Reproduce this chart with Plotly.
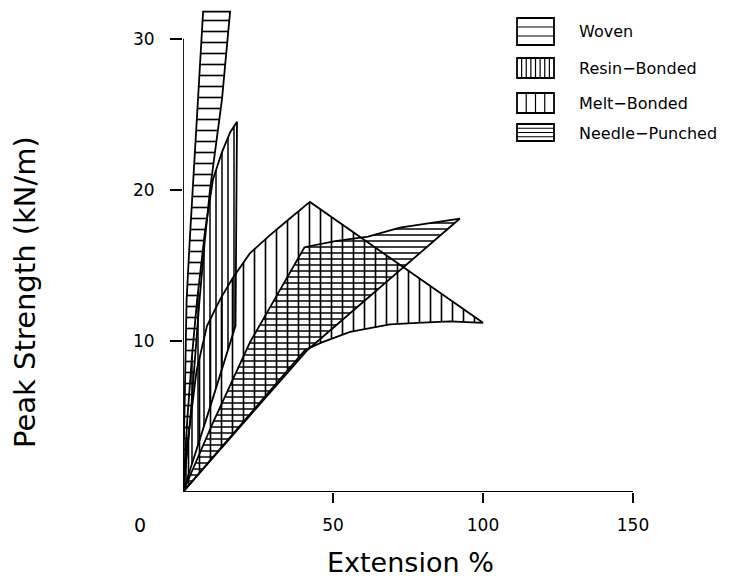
import plotly.graph_objects as go

# ---- data ----
categories = ["Woven", "Resin\u2212Bonded", "Melt\u2212Bonded", "Needle\u2212Punched"]

woven_upper_x = [0, 0.4, 1.2, 2.2, 3.3, 5.0, 6.7]
woven_upper_y = [0, 5, 12.7, 16.5, 20, 26, 31.8]
woven_lower_x = [0, 2.5, 5.5, 7.2, 9.0, 13.0, 15.7]
woven_lower_y = [0, 5, 12.7, 16.5, 20, 26, 31.8]

resin_upper_x = [0, 1.5, 3.0, 4.7, 7.3, 9.0, 10.0, 13.0, 15.7, 18.0]
resin_upper_y = [0, 5, 9, 12.7, 17.2, 19.5, 20.7, 22.5, 23.8, 24.5]
resin_lower_x = [0, 9.0, 17.5, 18.0]
resin_lower_y = [0, 5.6, 11.0, 24.5]

melt_upper_x = [0, 2.0, 4.5, 8.0, 12.5, 16.7, 22.3, 29.0, 35.0, 42.3]
melt_upper_y = [0, 4, 8, 11, 12.8, 14.2, 15.8, 17.0, 18.0, 19.2]
melt_lower_x = [0, 20.5, 40.7, 46.3, 55.7, 69.0, 78.0, 89.0, 100.0]
melt_lower_y = [0, 4.7, 9.4, 9.9, 10.6, 11.1, 11.2, 11.3, 11.2]

needle_upper_x = [0, 10.0, 22.3, 40.5, 50.7, 61.7, 72.3, 92.3]
needle_upper_y = [0, 4.6, 9.9, 16.2, 16.6, 16.9, 17.5, 18.1]
needle_lower_x = [0, 41.5, 92.3]
needle_lower_y = [0, 9.4, 18.1]

x_ticks = [50, 100, 150]
y_ticks = [10, 20, 30]

# ---- geometry helpers (pixel layout) ----
W, H = 733, 581
ML, MR, MT, MB = 183, 100, 4, 89
PW, PH = W - ML - MR, H - MT - MB
YMAX = 32.3


def px(xp):
    return (xp - ML) / PW


def py(yp):
    return (H - MB - yp) / PH


def polygon(ux, uy, lx, ly):
    return list(ux) + list(reversed(lx)), list(uy) + list(reversed(ly))


fig = go.Figure()

styles = [
    (woven_upper_x, woven_upper_y, woven_lower_x, woven_lower_y, "-", 11, 0.15),
    (resin_upper_x, resin_upper_y, resin_lower_x, resin_lower_y, "|", 6, 0.25),
    (melt_upper_x, melt_upper_y, melt_lower_x, melt_lower_y, "|", 11, 0.15),
    (needle_upper_x, needle_upper_y, needle_lower_x, needle_lower_y, "-", 6, 0.25),
]

for name, (ux, uy, lx, ly, shp, sz, sol) in zip(categories, styles):
    xs, ys = polygon(ux, uy, lx, ly)
    fig.add_trace(go.Scatter(
        x=xs, y=ys, mode="lines", fill="toself", name=name,
        fillcolor="rgba(0,0,0,0)",
        fillpattern=dict(shape=shp, size=sz, solidity=sol, fgcolor="black",
                         bgcolor="rgba(0,0,0,0)", fillmode="replace"),
        line=dict(color="black", width=1.8),
        showlegend=False, hoverinfo="skip",
    ))

shapes = []
# axis lines
shapes.append(dict(type="line", xref="x", yref="y", x0=0, y0=0, x1=0, y1=30,
                   line=dict(color="black", width=1.8)))
shapes.append(dict(type="line", xref="x", yref="y", x0=0, y0=0, x1=150, y1=0,
                   line=dict(color="black", width=1.8)))

# legend swatches (pixel positions)
sw_x0, sw_x1 = 517, 554
boxes = [(18, 45), (58, 78), (93, 113), (124, 141)]
for (t, b) in boxes:
    shapes.append(dict(type="rect", xref="paper", yref="paper",
                       x0=px(sw_x0), x1=px(sw_x1), y0=py(b), y1=py(t),
                       line=dict(color="black", width=1.8)))
for yy in (27, 36):
    shapes.append(dict(type="line", xref="paper", yref="paper", x0=px(sw_x0), x1=px(sw_x1),
                       y0=py(yy), y1=py(yy), line=dict(color="black", width=1.2)))
for k in range(1, 8):
    xx = sw_x0 + k * (sw_x1 - sw_x0) / 8
    shapes.append(dict(type="line", xref="paper", yref="paper", x0=px(xx), x1=px(xx),
                       y0=py(78), y1=py(58), line=dict(color="black", width=1.2)))
for k in range(1, 4):
    xx = sw_x0 + k * (sw_x1 - sw_x0) / 4
    shapes.append(dict(type="line", xref="paper", yref="paper", x0=px(xx), x1=px(xx),
                       y0=py(113), y1=py(93), line=dict(color="black", width=1.2)))
for k in range(1, 4):
    yy = 124 + k * (141 - 124) / 4
    shapes.append(dict(type="line", xref="paper", yref="paper", x0=px(sw_x0), x1=px(sw_x1),
                       y0=py(yy), y1=py(yy), line=dict(color="black", width=1.2)))

annotations = []
label_y = [32, 68, 103, 133]
for name, yy in zip(categories, label_y):
    annotations.append(dict(text=name, xref="paper", yref="paper", x=px(577), y=py(yy),
                            xanchor="left", yanchor="middle", showarrow=False,
                            font=dict(size=16, color="black")))
annotations.append(dict(text="0", xref="paper", yref="paper", x=px(140), y=py(525),
                        xanchor="center", yanchor="middle", showarrow=False,
                        font=dict(size=19, color="black")))
annotations.append(dict(text="Extension %", xref="paper", yref="paper", x=px(410), y=py(562),
                        xanchor="center", yanchor="middle", showarrow=False,
                        font=dict(size=27, color="black")))
annotations.append(dict(text="Peak Strength (kN/m)", xref="paper", yref="paper", x=px(25), y=py(292),
                        xanchor="center", yanchor="middle", showarrow=False, textangle=-90,
                        font=dict(size=29, color="black")))

fig.update_layout(
    width=W, height=H,
    margin=dict(l=ML, r=MR, t=MT, b=MB),
    paper_bgcolor="white", plot_bgcolor="white",
    font=dict(family="DejaVu Sans", color="black"),
    shapes=shapes, annotations=annotations,
    showlegend=False,
)
fig.update_xaxes(range=[0, 150], tickvals=x_ticks, ticks="outside", ticklen=10,
                 tickwidth=1.5, tickcolor="black", showline=False, showgrid=False,
                 zeroline=False, tickfont=dict(size=17), ticklabelstandoff=8)
fig.update_yaxes(range=[0, YMAX], tickvals=y_ticks, ticks="outside", ticklen=12,
                 tickwidth=1.5, tickcolor="black", showline=False, showgrid=False,
                 zeroline=False, tickfont=dict(size=17), ticklabelstandoff=12)

fig.write_html("out.html", config={"displayModeBar": False},
               post_script="document.body.style.margin='0';document.body.style.overflow='hidden';")
